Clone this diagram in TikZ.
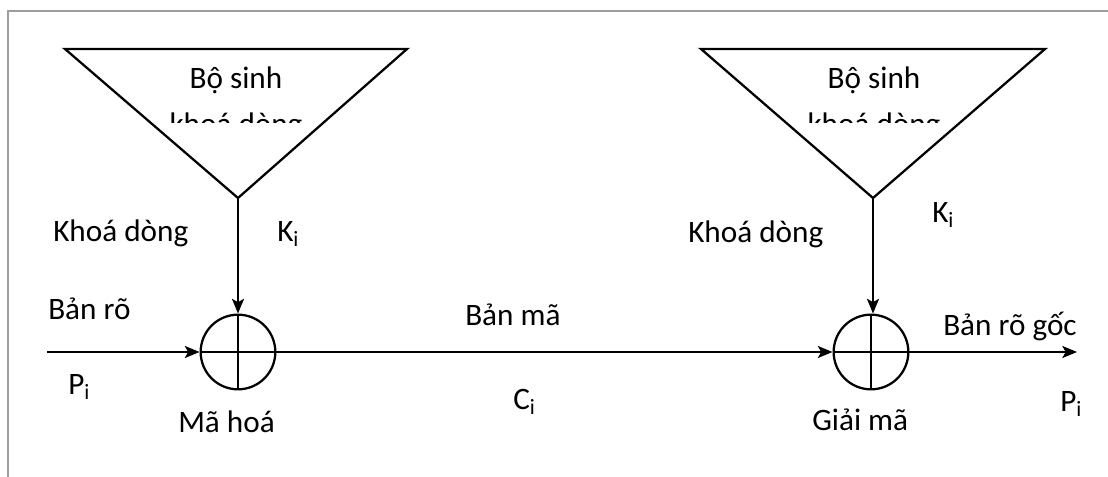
\documentclass[tikz,border=0pt]{standalone}
\usepackage{fontspec}
\setmainfont{Carlito}
\usetikzlibrary{arrows.meta}
\tikzset{
  px/.style={x=0.75pt,y=-0.75pt},
  line/.style={line width=1.7pt,black},
  arr/.style={line, -{Stealth[length=11pt,width=9pt,inset=2.5pt]}},
  lbl/.style={font=\fontsize{23.4pt}{28pt}\selectfont, inner sep=0pt, anchor=base west},
  xorc/.style={circle, draw, line width=1.7pt, minimum size=56pt, inner sep=0pt},
  frame/.style={line width=1.5pt, draw=black!38},
}
\begin{document}
\begin{tikzpicture}[px]
\useasboundingbox (0,0) rectangle (1108,477);
% frame
\draw[frame] (8,477) -- (8,11) -- (1108,11);
% triangles
\draw[line, line join=miter] (65,49) -- (407,49) -- (238,198) coordinate (apexL) -- cycle;
\draw[line, line join=miter] (701,49) -- (1045,49) -- (873,198) coordinate (apexR) -- cycle;
% triangle texts
\node[lbl, anchor=base] (bsL) at (236,89) {Bộ sinh};
\node[lbl, anchor=base] (bsR) at (874,89) {Bộ sinh};
\begin{scope}
  \clip (60,40) rectangle (1050,123);
  \node[lbl, anchor=base] (kdL) at (236,135) {khoá dòng};
  \node[lbl, anchor=base] (kdR) at (874,135) {khoá dòng};
\end{scope}
% xor nodes
\node[xorc] (xL) at (238,352) {};
\node[xorc] (xR) at (871,352) {};
\draw[line] (xL.north) -- (xL.south) (xL.west) -- (xL.east);
\draw[line] (xR.north) -- (xR.south) (xR.west) -- (xR.east);
% connectors
\coordinate (inL) at (47,352);
\coordinate (outR) at (1077,352);
\draw[arr] (apexL) -- (xL.north);
\draw[arr] (apexR) -- (apexR |- xR.north);
\draw[arr] (inL) -- (xL.west);
\draw[arr] (xL.east) -- (xR.west);
\draw[arr] (xR.east) -- (outR);
% labels
\node[lbl] (t1) at (53,242) {Khoá dòng};
\node[lbl] (t2) at (277,242) {K\textsubscript{i}};
\node[lbl] (t3) at (48,320) {Bản rõ};
\node[lbl] (t4) at (68,395) {P\textsubscript{i}};
\node[lbl] (t5) at (178,433) {Mã hoá};
\node[lbl] (t6) at (465,326) {Bản mã};
\node[lbl] (t7) at (513,410) {C\textsubscript{i}};
\node[lbl] (t8) at (688,243) {Khoá dòng};
\node[lbl] (t9) at (932,223) {K\textsubscript{i}};
\node[lbl] (t10) at (943,336) {Bản rõ gốc};
\node[lbl] (t11) at (812,431) {Giải mã};
\node[lbl] (t12) at (1060,412) {P\textsubscript{i}};
\end{tikzpicture}
\end{document}
